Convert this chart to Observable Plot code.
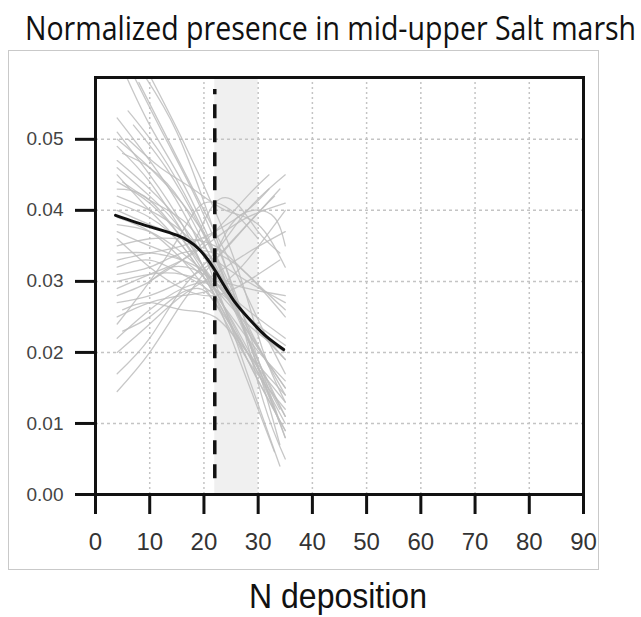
<!DOCTYPE html>
<html>
<head>
<meta charset="utf-8">
<script src="https://cdn.jsdelivr.net/npm/d3@7"></script>
<script src="https://cdn.jsdelivr.net/npm/@observablehq/plot@0.6"></script>
<style>
  html, body { margin: 0; padding: 0; background: #fff; }
  #wrap { position: relative; width: 641px; height: 617px; overflow: hidden; }
  #title { position: absolute; left: 25px; top: 14px; text-align: left; transform: scaleY(1.12); transform-origin: 0 70%;
           font-family: "Open Sans", "Noto Sans", sans-serif; color: #111; white-space: nowrap; line-height: 1; }
  #box { position: absolute; left: 8px; top: 50px; width: 589px; height: 518px; border: 1.5px solid #c9c9c9; }
  #chart { position: absolute; left: 0; top: 50px; }
  #xlabel { position: absolute; left: 0; width: 676px; top: 580px; text-align: center; transform: scaleY(1.1);
            font-family: "Liberation Sans", Arial, sans-serif; font-size: 32px; color: #111; line-height: 1; }
</style>
</head>
<body>
<div id="wrap">
  <div id="title"></div>
  <div id="box"></div>
  <div id="chart"></div>
  <div id="xlabel"></div>
</div>
<script>
const titleText = "Normalized presence in mid-upper Salt marsh";
const xLabelText = "N deposition";
const xTicks = [0, 10, 20, 30, 40, 50, 60, 70, 80, 90];
const yTicks = [0.00, 0.01, 0.02, 0.03, 0.04, 0.05];
const xDomain = [0, 90];
const yDomain = [0, 0.0587];
const bandRange = [22, 30];
const thresholdX = [22];
const thresholdSpan = [0.0022, 0.057];

// mean response curve (black)
const meanX = [3.7, 10, 15, 19, 22.4, 25.5, 29.2, 31.6, 34.7];
const meanY = [0.0393, 0.0377, 0.0365, 0.0346, 0.0311, 0.0273, 0.0240, 0.0222, 0.0204];

// individual bootstrap curves (grey), [x, y] pairs
const greyCurves = [
  [[5,0.060],[10,0.052],[16,0.044],[22,0.034],[28,0.022],[34,0.010]],
  [[7,0.059],[13,0.050],[19,0.041],[25,0.030],[30,0.019],[35,0.008]],
  [[10,0.059],[16,0.050],[22,0.040],[27,0.030],[31,0.020],[35,0.013]],
  [[4,0.053],[10,0.047],[16,0.040],[22,0.030],[28,0.017],[34,0.004]],
  [[4,0.051],[10,0.045],[16,0.038],[22,0.028],[28,0.016],[33,0.006]],
  [[4,0.049],[10,0.044],[16,0.037],[22,0.029],[28,0.019],[35,0.009]],
  [[4,0.047],[10,0.043],[16,0.038],[22,0.031],[28,0.023],[35,0.015]],
  [[5,0.048],[10,0.046],[16,0.041],[22,0.032],[28,0.022],[35,0.011]],
  [[8,0.058],[14,0.049],[20,0.040],[26,0.031],[31,0.023],[35,0.017]],
  [[4,0.045],[10,0.040],[16,0.035],[22,0.028],[28,0.020],[35,0.013]],
  [[4,0.044],[10,0.041],[16,0.036],[22,0.030],[28,0.025],[35,0.019]],
  [[4,0.043],[9,0.042],[15,0.037],[21,0.030],[27,0.022],[34,0.012]],
  [[4,0.0145],[10,0.020],[16,0.027],[22,0.033],[28,0.038],[34,0.043]],
  [[4,0.017],[10,0.022],[16,0.029],[22,0.034],[28,0.040],[35,0.045]],
  [[4,0.020],[10,0.024],[16,0.028],[22,0.031],[28,0.034],[35,0.037]],
  [[4,0.022],[10,0.026],[16,0.029],[22,0.030],[28,0.029],[35,0.028]],
  [[4,0.025],[10,0.027],[16,0.028],[22,0.029],[28,0.033],[35,0.040]],
  [[4,0.027],[10,0.028],[16,0.030],[22,0.033],[28,0.038],[33,0.042]],
  [[4,0.029],[10,0.031],[16,0.033],[22,0.036],[28,0.039],[35,0.041]],
  [[4,0.031],[10,0.032],[16,0.034],[22,0.034],[28,0.031],[35,0.025]],
  [[4,0.033],[10,0.034],[16,0.035],[22,0.037],[28,0.040],[32,0.043]],
  [[4,0.035],[10,0.036],[16,0.036],[22,0.035],[28,0.031],[35,0.026]],
  [[4,0.038],[10,0.037],[16,0.034],[22,0.030],[28,0.026],[35,0.022]],
  [[4,0.040],[10,0.038],[16,0.036],[22,0.033],[28,0.030],[35,0.027]],
  [[4,0.036],[10,0.032],[16,0.029],[22,0.028],[28,0.030],[34,0.033]],
  [[5,0.026],[10,0.027],[16,0.026],[22,0.025],[28,0.020],[35,0.014]],
  [[4,0.024],[10,0.030],[16,0.037],[20,0.041],[25,0.040],[30,0.036]],
  [[18,0.035],[22,0.041],[26,0.041],[30,0.037],[34,0.034]],
  [[21,0.032],[25,0.038],[29,0.040],[33,0.039],[35,0.035]],
  [[4,0.032],[10,0.033],[16,0.031],[22,0.028],[28,0.022],[35,0.016]],
  [[4,0.041],[10,0.039],[16,0.035],[22,0.028],[28,0.019],[35,0.009]],
  [[4,0.046],[10,0.042],[16,0.037],[22,0.029],[28,0.020],[35,0.010]],
  [[6,0.054],[12,0.048],[18,0.040],[24,0.030],[30,0.018],[35,0.008]],
  [[4,0.039],[10,0.037],[16,0.033],[22,0.027],[28,0.019],[35,0.012]],
  [[4,0.042],[10,0.040],[16,0.037],[22,0.032],[28,0.025],[35,0.019]],
  [[4,0.037],[10,0.035],[16,0.033],[22,0.029],[28,0.024],[35,0.020]],
  [[5,0.023],[10,0.025],[15,0.028],[19,0.029],[22,0.027],[28,0.020],[33,0.012]],
  [[4,0.028],[10,0.030],[14,0.032],[20,0.031],[26,0.026],[32,0.018]],
  [[6,0.050],[12,0.046],[18,0.043],[24,0.040],[30,0.038],[35,0.032]],
  [[10,0.030],[16,0.033],[22,0.037],[28,0.042],[32,0.045]],
  [[9,0.059],[15,0.051],[21,0.039],[26,0.027],[31,0.013],[35,0.005]],
  [[4,0.050],[10,0.046],[16,0.041],[22,0.034],[28,0.024],[35,0.014]],
  [[4,0.034],[10,0.034],[16,0.033],[22,0.030],[28,0.023],[35,0.015]],
  [[5,0.044],[11,0.041],[17,0.038],[23,0.031],[29,0.020],[34,0.007]],
  [[4,0.030],[10,0.031],[16,0.031],[22,0.029],[28,0.025],[35,0.021]],
  [[7,0.052],[13,0.046],[19,0.038],[25,0.028],[31,0.017],[35,0.011]]
];

const greyData = greyCurves.flatMap((c, i) => c.map(([x, y]) => ({id: i, x, y})));
const meanData = meanX.map((x, i) => ({x, y: meanY[i]}));

// title sized to the reference width
function fitFont(text, family, target) {
  const ctx = document.createElement("canvas").getContext("2d");
  ctx.font = `100px ${family}`;
  return 100 * target / ctx.measureText(text).width;
}
const titleEl = document.getElementById("title");
titleEl.textContent = titleText;
titleEl.style.fontSize = fitFont(titleText, "'Open Sans'", 612).toFixed(1) + "px";
document.getElementById("xlabel").textContent = xLabelText;

const chart = Plot.plot({
  width: 641,
  height: 520,
  marginLeft: 95,
  marginRight: 58,
  marginTop: 27,
  marginBottom: 76,
  style: {fontFamily: "'Liberation Sans', Arial, sans-serif", background: "transparent", color: "#111"},
  x: {domain: xDomain},
  y: {domain: yDomain},
  marks: [
    Plot.rect([bandRange], {x1: d => d[0], x2: d => d[1], y1: yDomain[0], y2: yDomain[1], fill: "#f0f0f0"}),
    Plot.gridX(xTicks.slice(1, -1), {stroke: "#c4c4c4", strokeOpacity: 1, strokeWidth: 1.5, strokeDasharray: "2,3"}),
    Plot.gridY(yTicks.slice(1), {stroke: "#c4c4c4", strokeOpacity: 1, strokeWidth: 1.5, strokeDasharray: "3,3"}),
    Plot.line(greyData, {x: "x", y: "y", z: "id", curve: "natural", stroke: "#bdbdbd", strokeWidth: 1.3, strokeOpacity: 0.85, clip: true}),
    Plot.ruleX(thresholdX, {y1: thresholdSpan[0], y2: thresholdSpan[1], stroke: "#111", strokeWidth: 3.5, strokeDasharray: "14,10"}),
    Plot.line(meanData, {x: "x", y: "y", curve: "natural", stroke: "#111", strokeWidth: 3}),
    Plot.frame({stroke: "#111", strokeWidth: 3}),
    Plot.axisY(yTicks, {tickSize: 20, tickPadding: 12, strokeWidth: 3, fontSize: 19, fill: "#444", tickFormat: d => d.toFixed(2), label: null}),
    Plot.axisX(xTicks, {tickSize: 20, tickPadding: 18, strokeWidth: 3, fontSize: 24, fill: "#333", label: null})
  ]
});
document.getElementById("chart").appendChild(chart);
</script>
</body>
</html>
